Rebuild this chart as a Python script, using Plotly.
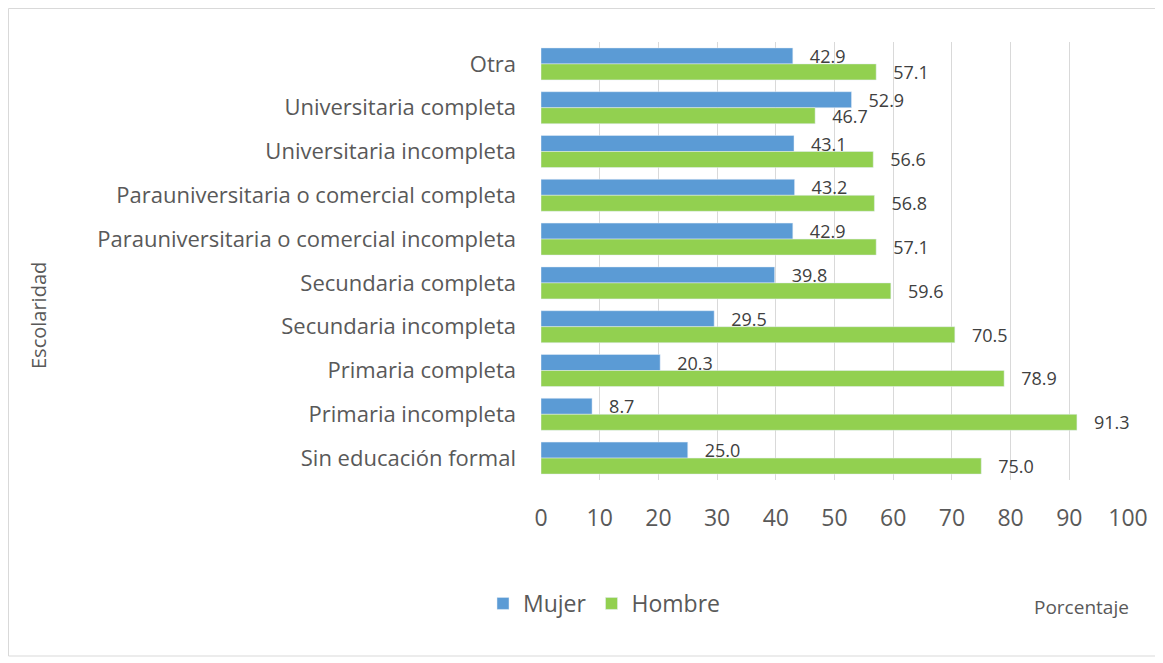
import plotly.graph_objects as go

categorias = [
    "Otra",
    "Universitaria completa",
    "Universitaria incompleta",
    "Parauniversitaria o comercial completa",
    "Parauniversitaria o comercial incompleta",
    "Secundaria completa",
    "Secundaria incompleta",
    "Primaria completa",
    "Primaria incompleta",
    "Sin educación formal",
]
mujer = [42.9, 52.9, 43.1, 43.2, 42.9, 39.8, 29.5, 20.3, 8.7, 25.0]
hombre = [57.1, 46.7, 56.6, 56.8, 57.1, 59.6, 70.5, 78.9, 91.3, 75.0]
x_ticks = list(range(0, 101, 10))

# the page body adds an 8px margin, so work in screen pixels minus that
OFF = 8
W, H = 1163 - OFF, 663 - OFF
L, R, T, B = 541 - OFF, 35, 42 - OFF, 183
pw, ph = W - L - R, H - T - B

def px_x(p):
    return (p - OFF - L) / pw

def px_y(p):
    return (H - B - (p - OFF)) / ph

FONT = "'Open Sans', sans-serif"
GREY = "#595959"
pad = "\u00a0\u00a0\u00a0"

fig = go.Figure()
fig.add_trace(go.Bar(
    name="Mujer", y=categorias, x=mujer, orientation="h",
    marker=dict(color="#5B9BD5"),
    text=[pad + f"{v:.1f}" for v in mujer], textposition="outside",
    constraintext="none", cliponaxis=False,
    textfont=dict(size=18, color="#404040", family=FONT),
))
fig.add_trace(go.Bar(
    name="Hombre", y=categorias, x=hombre, orientation="h",
    marker=dict(color="#92D050"),
    text=[pad + f"{v:.1f}" for v in hombre], textposition="outside",
    constraintext="none", cliponaxis=False,
    textfont=dict(size=18, color="#404040", family=FONT),
))

fig.update_layout(
    width=W, height=H,
    margin=dict(l=L, r=R, t=T, b=B, autoexpand=False),
    paper_bgcolor="white", plot_bgcolor="white",
    barmode="group", bargap=0.27, bargroupgap=0,
    font=dict(family=FONT, color=GREY),
    showlegend=True,
    legend=dict(orientation="h", x=px_x(483), y=px_y(582), xanchor="left", yanchor="top",
                font=dict(size=23, color=GREY), traceorder="normal"),
    xaxis=dict(range=[0, 100], tickvals=x_ticks, showgrid=True, gridcolor="#D9D9D9",
               gridwidth=1, zeroline=False, showline=False,
               tickfont=dict(size=23, color=GREY), ticklabelstandoff=22),
    yaxis=dict(autorange="reversed", tickfont=dict(size=22, color=GREY),
               ticklabelstandoff=24, showline=False, showgrid=False),
    annotations=[
        dict(text="Escolaridad", textangle=-90, x=px_x(38), y=px_y(316),
             xanchor="center", yanchor="middle",
             xref="paper", yref="paper", showarrow=False,
             font=dict(size=20, color=GREY)),
        dict(text="Porcentaje", x=px_x(1081), y=px_y(607),
             xanchor="center", yanchor="middle",
             xref="paper", yref="paper", showarrow=False,
             font=dict(size=19, color=GREY)),
    ],
    shapes=[
        dict(type="rect", xref="paper", yref="paper",
             x0=px_x(8.5), x1=px_x(1160), y0=px_y(656), y1=px_y(8.5),
             line=dict(color="#D9D9D9", width=1), layer="below"),
    ],
)

fig.write_html("out.html")
